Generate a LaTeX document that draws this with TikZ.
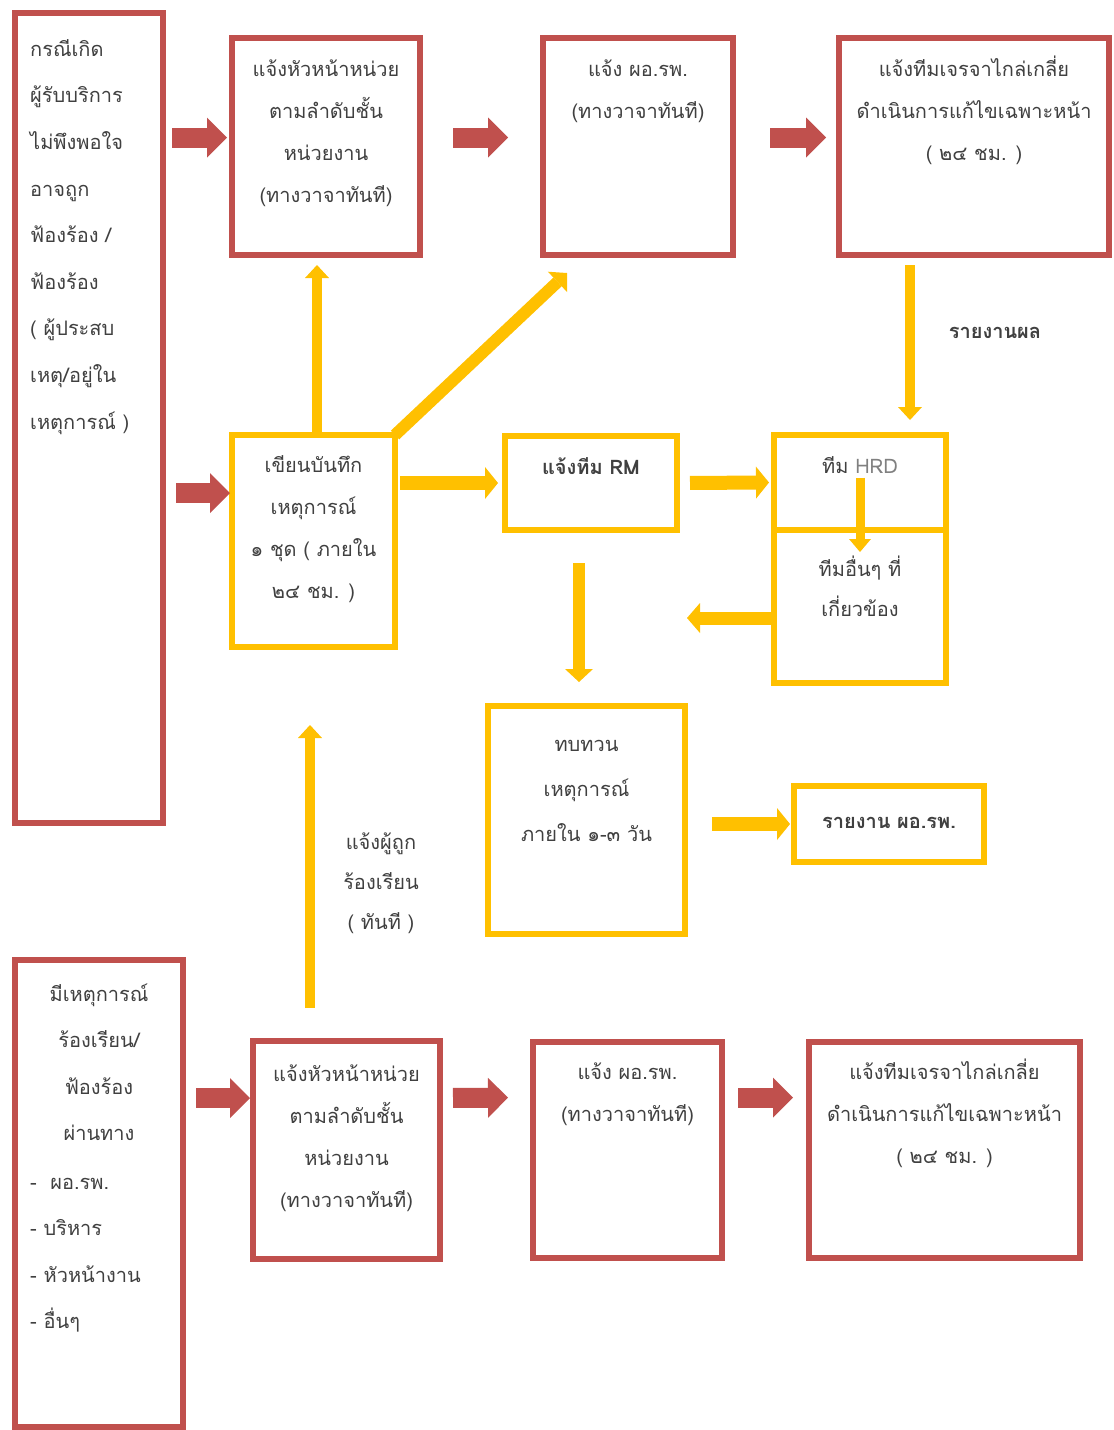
\documentclass[tikz,border=0pt]{standalone}
\usepackage{fontspec}
\newfontfamily\thaifont[Script=Thai]{Loma}
\usetikzlibrary{arrows.meta,calc}
\definecolor{rc}{HTML}{C0504D}
\definecolor{yc}{HTML}{FFC000}
\definecolor{tc}{HTML}{404040}
\newcommand{\fst}{\rule{0pt}{22pt}}
\begin{document}
\begin{tikzpicture}[x=1pt,y=-1pt,
  rbox/.style={draw=rc, line width=6pt, outer sep=0pt, inner sep=0pt},
  ybox/.style={draw=yc, line width=6pt, outer sep=0pt, inner sep=0pt},
  txt/.style={inner sep=0pt, text=tc, font=\thaifont\fontsize{20}{42}\selectfont, align=center, anchor=north},
  redarr/.style={draw=rc, line width=20pt, -{Triangle[width=40pt,length=20pt,line width=0pt]}},
  yarr/.style={draw=yc, line width=#1, -{Triangle[width=#1*2+4pt,length=13pt,line width=0pt]}},
]
\fill[white] (0,0) rectangle (1114,1430);
\useasboundingbox (0,0) rectangle (1114,1430);

% red boxes
\node[rbox, minimum width=148pt, minimum height=810pt] (A) at (89,418) {};
\node[rbox, minimum width=188pt, minimum height=217pt] (B) at (326,146.5) {};
\node[rbox, minimum width=190pt, minimum height=217pt] (C) at (638,146.5) {};
\node[rbox, minimum width=270pt, minimum height=217pt] (D) at (974,146.5) {};
\node[rbox, minimum width=168pt, minimum height=467pt] (E) at (99,1193.5) {};
\node[rbox, minimum width=187pt, minimum height=218pt] (F) at (346.5,1150) {};
\node[rbox, minimum width=189pt, minimum height=216pt] (G) at (627.5,1149.5) {};
\node[rbox, minimum width=271pt, minimum height=216pt] (H) at (944.5,1149.5) {};

% yellow boxes
\node[ybox, minimum width=163pt, minimum height=212pt] (I) at (313.5,541) {};
\node[ybox, minimum width=172pt, minimum height=94pt] (J) at (591,483) {};
\node[ybox, minimum width=172pt, minimum height=95pt] (K) at (860,482.5) {};
\node[ybox, minimum width=172pt, minimum height=153pt] (L) at (860,606.5) {};
\node[ybox, minimum width=197pt, minimum height=228pt] (M) at (586.5,820) {};
\node[ybox, minimum width=190pt, minimum height=76pt] (N) at (889,824) {};

% texts
\node[txt, anchor=north west, align=left, font=\thaifont\fontsize{20}{46.6}\selectfont] (At) at (30,34)
  {\fst กรณีเกิด\\ผู้รับบริการ\\ไม่พึงพอใจ\\อาจถูก\\ฟ้องร้อง /\\ฟ้องร้อง\\( ผู้ประสบ\\เหตุ/อยู่ใน\\เหตุการณ์ )};
\node[txt] (Bt) at (326,54) {\fst แจ้งหัวหน้าหน่วย\\ตามลำดับชั้น\\หน่วยงาน\\(ทางวาจาทันที)};
\node[txt] (Ct) at (638,54) {\fst แจ้ง ผอ.รพ.\\(ทางวาจาทันที)};
\node[txt] (Dt) at (974,54) {\fst แจ้งทีมเจรจาไกล่เกลี่ย\\ดำเนินการแก้ไขเฉพาะหน้า\\( ๒๔ ชม. )};
\node[txt] (It) at (313.5,450) {\fst เขียนบันทึก\\เหตุการณ์\\๑ ชุด ( ภายใน\\๒๔ ชม. )};
\node[txt, font=\thaifont\bfseries\fontsize{20}{42}\selectfont] (Jt) at (591,452) {\fst แจ้งทีม RM};
\node[txt] (Kt) at (860,451) {\fst ทีม {\color{gray}HRD}};
\node[txt, font=\thaifont\fontsize{20}{40}\selectfont] (Lt) at (860,554) {\fst ทีมอื่นๆ ที่\\เกี่ยวข้อง};
\node[txt, font=\thaifont\fontsize{20}{45}\selectfont] (Mt) at (586.5,729) {\fst ทบทวน\\เหตุการณ์\\ภายใน ๑-๓ วัน};
\node[txt, font=\thaifont\bfseries\fontsize{20}{42}\selectfont] (Nt) at (889,806) {\fst รายงาน ผอ.รพ.};
\node[txt, font=\thaifont\bfseries\fontsize{20}{42}\selectfont] (Rt) at (995,316) {\fst รายงานผล};
\node[txt, font=\thaifont\fontsize{20}{40}\selectfont] (Ft2) at (381,827) {\fst แจ้งผู้ถูก\\ร้องเรียน\\( ทันที )};
\node[txt, font=\thaifont\fontsize{20}{46.5}\selectfont] (Et1) at (99,979) {\fst มีเหตุการณ์\\ร้องเรียน/\\ฟ้องร้อง\\ผ่านทาง};
\node[txt, anchor=north west, align=left, font=\thaifont\fontsize{20}{46.5}\selectfont] (Et2) at (30,1167)
  {\fst -\ \ ผอ.รพ.\\- บริหาร\\- หัวหน้างาน\\- อื่นๆ};
\node[txt] (Ft) at (346.5,1059) {\fst แจ้งหัวหน้าหน่วย\\ตามลำดับชั้น\\หน่วยงาน\\(ทางวาจาทันที)};
\node[txt] (Gt) at (627.5,1057) {\fst แจ้ง ผอ.รพ.\\(ทางวาจาทันที)};
\node[txt] (Ht) at (944.5,1057) {\fst แจ้งทีมเจรจาไกล่เกลี่ย\\ดำเนินการแก้ไขเฉพาะหน้า\\( ๒๔ ชม. )};

\coordinate (Lend) at (687,618);

% red block arrows
\draw[redarr, shorten <=9pt, shorten >=5pt] ([yshift=9pt]A.east |- B.west) -- ([yshift=9pt]B.west);
\draw[redarr, shorten <=33pt, shorten >=35pt] ([yshift=9pt]B.east) -- ([yshift=9pt]C.west);
\draw[redarr, shorten <=37pt, shorten >=13pt] ([yshift=9pt]C.east) -- ([yshift=9pt]D.west);
\draw[redarr, shorten <=13pt, shorten >=2pt] ([yshift=48pt]A.east |- I.west) -- ([yshift=48pt]I.west);
\draw[redarr, shorten <=13pt, shorten >=3pt] ([yshift=52pt]E.east |- F.west) -- ([yshift=52pt]F.west);
\draw[redarr, shorten <=13pt, shorten >=25pt] ([yshift=52pt]F.east) -- ([yshift=52pt]G.west);
\draw[redarr, shorten <=16pt, shorten >=16pt] ([yshift=52pt]G.east) -- ([yshift=52pt]H.west);

% yellow arrows
\draw[yarr=10pt, shorten >=10pt] ([xshift=3.5pt]I.north) -- ([xshift=3.5pt]I.north |- B.south);
\draw[yarr=12pt] (I.north east) -- ([shift={(24,18)}]C.south west);
\draw[yarr=14pt, shorten <=5pt, shorten >=7pt] (I.east |- J.west) -- (J.west);
\draw[yarr=14pt, shorten <=13pt, shorten >=5pt] (J.east) -- (K.west);
\draw[yarr=10pt, shorten <=10pt, shorten >=15pt] ([xshift=50pt]K.north |- D.south) -- ([xshift=50pt]K.north);
\draw[yarr=9pt] ([yshift=5pt]K.center) -- ([yshift=-22pt]L.north);
\draw[yarr=13pt] ([yshift=-11.5pt]L.west) -- (Lend);
\draw[yarr=12pt, shorten <=33pt, shorten >=24pt] ([xshift=-12pt]J.south) -- ([xshift=-12pt]J.south |- M.north);
\draw[yarr=14pt, shorten <=27pt, shorten >=4pt] (M.east |- N.west) -- (N.west);
\draw[yarr=10pt, shorten <=33pt, shorten >=78pt] ([xshift=-3.5pt]I.south |- F.north) -- ([xshift=-3.5pt]I.south);
\end{tikzpicture}
\end{document}
